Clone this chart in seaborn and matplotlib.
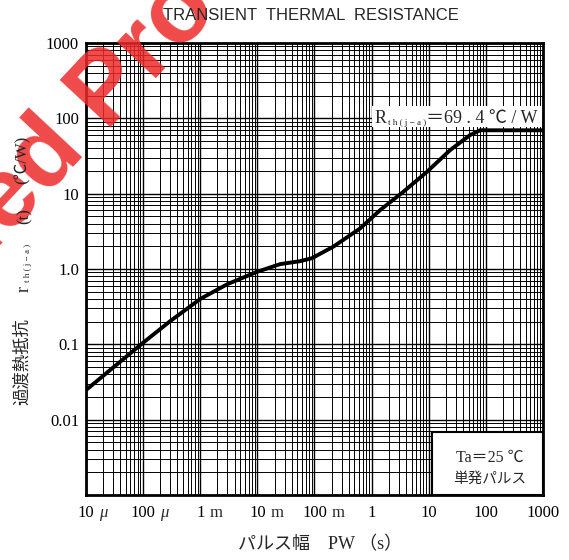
import numpy as np
import pandas as pd
import matplotlib
matplotlib.use('Agg')
import matplotlib.pyplot as plt
import seaborn as sns
from matplotlib.patches import Rectangle
from matplotlib.ticker import FixedLocator, LogLocator, NullFormatter

# values
pulse_width = [1e-5, 1e-4, 3e-4, 1e-3, 3e-3, 1e-2, 0.025, 0.056, 0.09,
               0.214, 0.63, 1.41, 3.6, 9.3, 23.7, 53, 79, 1000]
r_th = [0.0247, 0.105, 0.204, 0.40, 0.63, 0.92, 1.16, 1.27, 1.39,
        1.98, 3.46, 6.05, 10.6, 19.5, 37.9, 60, 69.4, 69.4]

x_tick_vals = [1e-5, 1e-4, 1e-3, 1e-2, 1e-1, 1, 10, 100, 1000]
x_tick_nums = ['10', '100', '1', '10', '100', '1', '10', '100', '1000']
x_tick_units = ['μ', 'μ', 'm', 'm', 'm', '', '', '', '']
y_tick_vals = [0.01, 0.1, 1, 10, 100, 1000]
y_tick_labels = ['0.01', '0.1', '1.0', '10', '100', '1000']

sns.set_theme(style='white')
plt.rcParams['font.family'] = ['Liberation Serif', 'Noto Sans CJK JP', 'DejaVu Sans']

fig = plt.figure(figsize=(5.69, 5.6), dpi=100)
ax = fig.add_axes([0.1511, 0.1161, 0.8032, 0.8071])

df = pd.DataFrame({'pw': pulse_width, 'rth': r_th})
sns.lineplot(data=df, x='pw', y='rth', ax=ax, color='black', linewidth=2.8,
             sort=False, zorder=5)

ax.set_xscale('log')
ax.set_yscale('log')
ax.set_xlim(1e-5, 1e3)
ax.set_ylim(1e-3, 1e3)

ax.xaxis.set_major_locator(FixedLocator(x_tick_vals))
ax.set_xticklabels(x_tick_nums)
ax.yaxis.set_major_locator(FixedLocator(y_tick_vals))
ax.set_yticklabels(y_tick_labels)
ax.xaxis.set_minor_locator(LogLocator(base=10, subs=np.arange(2, 10), numticks=100))
ax.xaxis.set_minor_formatter(NullFormatter())
# 0.001 decade line without a label
ax.yaxis.set_minor_locator(FixedLocator(
    [m * 10.0 ** e for e in range(-3, 3) for m in range(2, 10)] + [1e-3]))
ax.yaxis.set_minor_formatter(NullFormatter())

ax.tick_params(which='both', length=0)
ax.tick_params(axis='x', labelsize=12, pad=7, colors='black')
ax.tick_params(axis='y', labelsize=12, pad=5, colors='black')

ax.grid(which='major', color='black', linewidth=1.0)
ax.grid(which='minor', color='black', linewidth=0.7)
ax.set_axisbelow(True)
for s in ax.spines.values():
    s.set_color('black')
    s.set_linewidth(2)

# unit suffixes after the tick numbers
for v, n, u in zip(x_tick_vals, x_tick_nums, x_tick_units):
    if u:
        ax.annotate(u, xy=(v, 0), xycoords=('data', 'axes fraction'),
                    xytext=(len(n) * 3 + 3.5, -7), textcoords='offset points',
                    ha='left', va='top', fontsize=12,
                    style='italic' if u == 'μ' else 'normal')

ax.set_xlabel('')
ax.set_ylabel('')

# Rth annotation in a white box
ax.add_patch(Rectangle((0.626, 0.814), 0.372, 0.047, transform=ax.transAxes,
                       facecolor='white', edgecolor='none', zorder=6))
t1 = ax.text(0.632, 0.823, 'R', transform=ax.transAxes, fontsize=13,
             ha='left', va='baseline', zorder=7)
t2 = ax.annotate('t h ( j − a )', xy=(1, 0), xycoords=t1, xytext=(1, 0),
                 textcoords='offset points', fontsize=6.5, ha='left',
                 va='bottom', zorder=7)
ax.annotate('＝69 . 4 ℃ / W', xy=(1, 0), xycoords=t2, xytext=(0, 0),
            textcoords='offset points', fontsize=13, ha='left',
            va='bottom', zorder=7)

# condition box
ax.add_patch(Rectangle((0.757, 0.0), 0.243, 0.139, transform=ax.transAxes,
                       facecolor='white', edgecolor='black', linewidth=1.5,
                       zorder=6))
ax.text(0.884, 0.082, 'Ta＝25 ℃', transform=ax.transAxes, fontsize=11.5,
        ha='center', va='center', zorder=7)
ax.text(0.884, 0.035, '単発パルス', transform=ax.transAxes, fontsize=10.5,
        ha='center', va='center', zorder=7)

# titles and axis labels (drawn above the watermark)
fig.text(311 / 569, 1 - 15 / 560, 'TRANSIENT  THERMAL  RESISTANCE',
         family=['Liberation Sans', 'DejaVu Sans'], fontsize=12,
         ha='center', va='center', zorder=5)
fig.text(320 / 569, 1 - 545 / 560, 'パルス幅　PW （s）', fontsize=13,
         ha='center', va='center', zorder=5)
fig.text(23 / 569, 1 - 362 / 560, '過渡熱抵抗', fontsize=12.5, rotation=90,
         ha='center', va='center', zorder=5)
fig.text(24 / 569, 1 - 289 / 560, 'r', fontsize=13, rotation=90,
         ha='center', va='center', zorder=5)
fig.text(28 / 569, 1 - 263 / 560, 't h ( j − a )', fontsize=6.5, rotation=90,
         ha='center', va='center', zorder=5)
fig.text(25 / 569, 1 - 216 / 560, '(t)', fontsize=12, rotation=90,
         ha='center', va='center', zorder=5)
fig.text(22 / 569, 1 - 160 / 560, '(℃/W)', fontsize=12, rotation=90,
         ha='center', va='center', zorder=5)

# red watermark across the top-left corner
fig.text(-0.016, 0.611, 'Discontinued Product', rotation=47,
         rotation_mode='anchor', ha='center', va='center', fontsize=72,
         fontweight='bold', family=['Liberation Sans', 'DejaVu Sans'],
         color='#ee2a2a', alpha=0.85, zorder=1)

fig.savefig('out.png', dpi=100)
